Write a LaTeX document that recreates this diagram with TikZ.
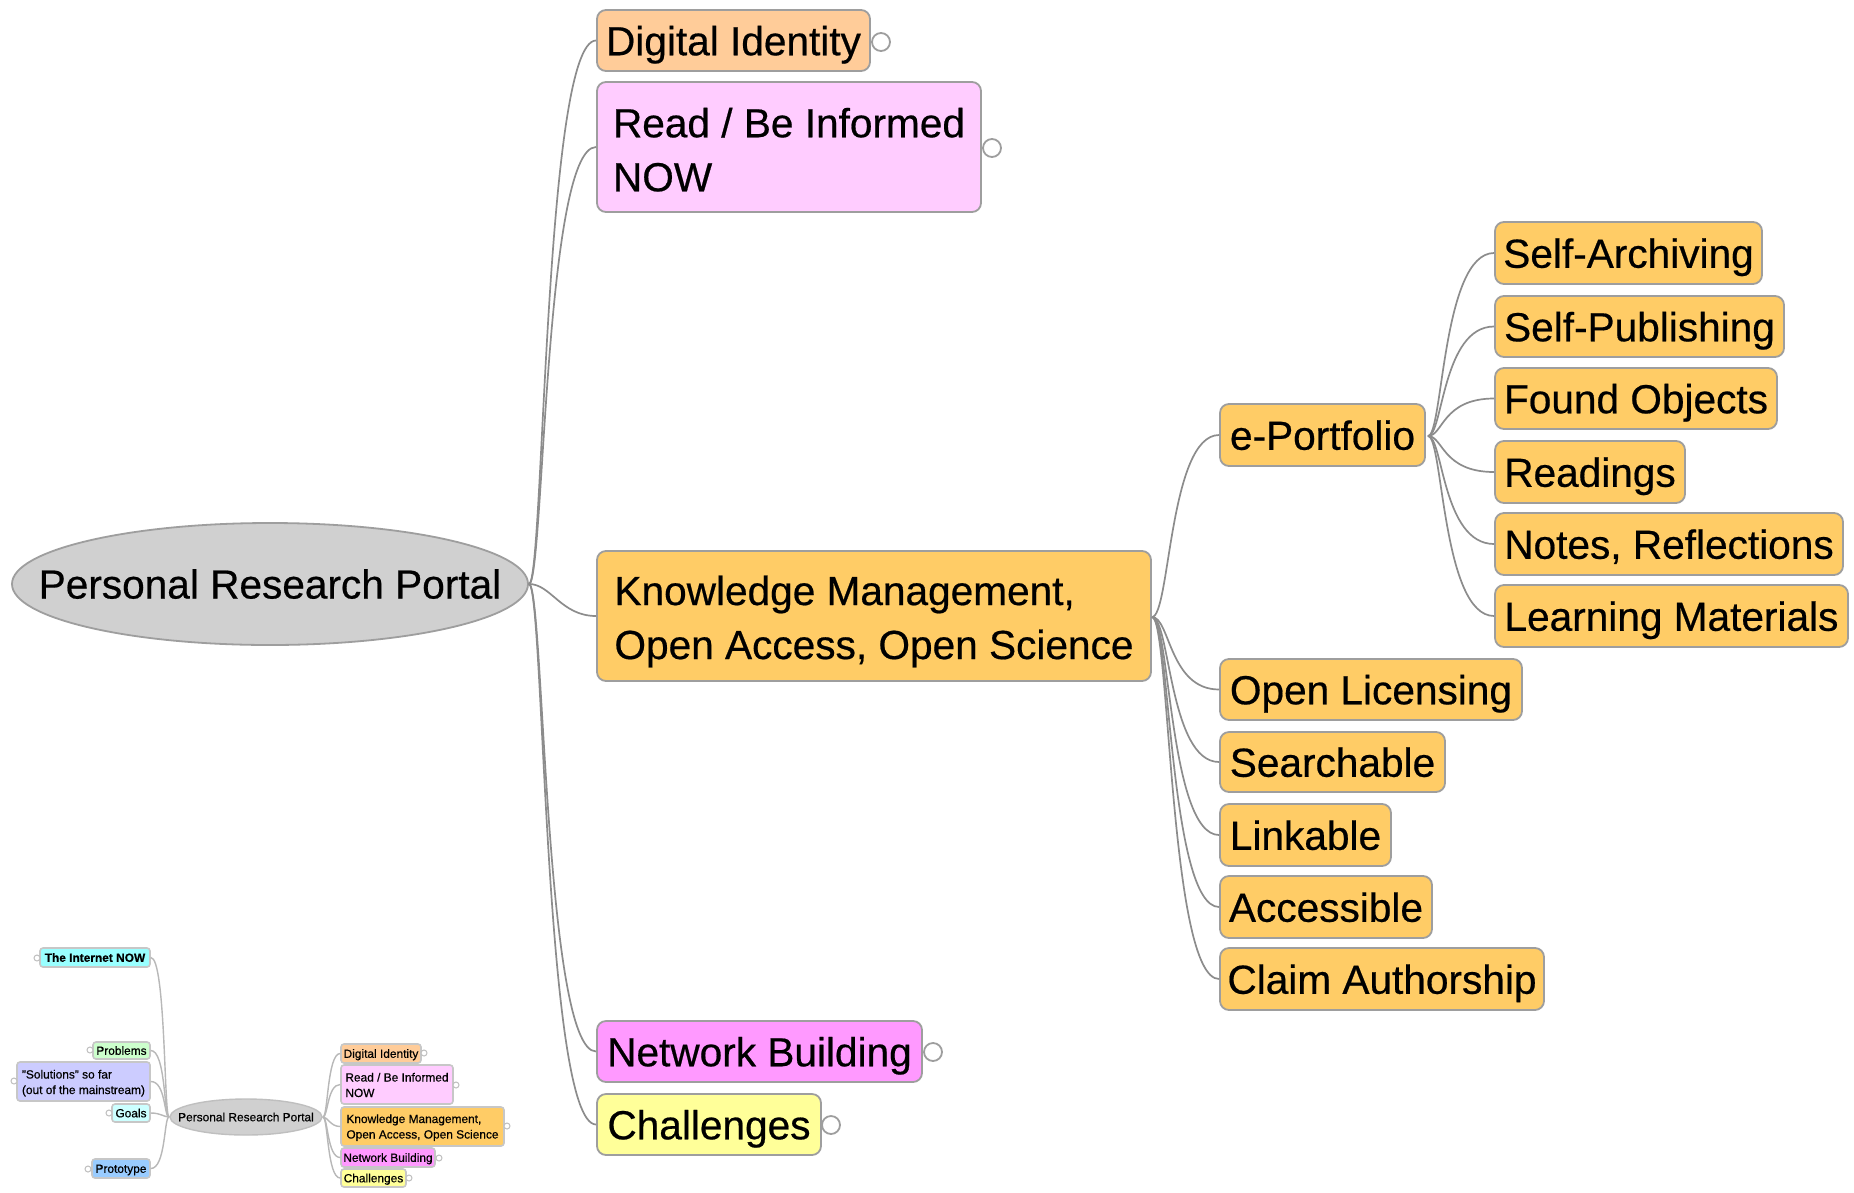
\documentclass[tikz,border=0pt]{standalone}
\usepackage{fontspec}
\setmainfont{Liberation Sans}[FakeBold=0.5]
\usetikzlibrary{shapes.geometric}
\tikzset{
  x=1pt,y=-1pt,
  big/.style={draw=black!38,line width=1.8pt,rounded corners=9pt,inner sep=0pt,align=left,text height=29.5pt,text depth=0pt,font=\fontsize{40.6}{54}\selectfont},
  small/.style={draw=black!22,line width=1.6pt,rounded corners=3pt,inner sep=0pt,align=left,text height=8.6pt,text depth=0pt,font=\fontsize{11.9}{15.5}\selectfont},
  link/.style={draw=black!45,line width=1.7pt},
  slink/.style={draw=black!28,line width=1.4pt},
  foldbig/.style={circle,draw=black!38,fill=white,line width=1.8pt,minimum size=18pt,inner sep=0pt},
  foldsmall/.style={circle,draw=black!25,fill=white,line width=1pt,minimum size=6pt,inner sep=0pt},
}
\definecolor{cdig}{HTML}{FFCC99}
\definecolor{cread}{HTML}{FFCCFF}
\definecolor{cknow}{HTML}{FFCC66}
\definecolor{cnet}{HTML}{FF99FF}
\definecolor{cchal}{HTML}{FFFF99}
\definecolor{croot}{HTML}{D0D0D0}
\definecolor{cint}{HTML}{99FFFF}
\definecolor{cprob}{HTML}{CCFFCC}
\definecolor{csol}{HTML}{CCCCFF}
\definecolor{cgoal}{HTML}{CCFFFF}
\definecolor{cproto}{HTML}{99CCFF}
% \bx[style]{name}{x1}{y1}{x2}{y2}{colour}{text}
\newcommand{\bx}[8][big]{%
  \pgfmathsetmacro{\bxw}{#5-#3}\pgfmathsetmacro{\bxh}{#6-#4}%
  \pgfmathsetmacro{\bxcx}{(#3+#5)/2}\pgfmathsetmacro{\bxcy}{(#4+#6)/2}%
  \node[#1,fill=#7,minimum width=\bxw pt,minimum height=\bxh pt] (#2) at (\bxcx,\bxcy) {#8};}
\newcommand{\lnk}[5][link]{\draw[#1] (#2) .. controls +(#4,0) and +(#5,0) .. (#3);}
\begin{document}
\begin{tikzpicture}
\useasboundingbox (0,0) rectangle (1854,1192);
\fill[white] (0,0) rectangle (1854,1192);

\coordinate (rootE) at (529,584);
\coordinate (knowE) at (1152,617);
\coordinate (epE) at (1428,436);
\coordinate (srootE) at (323,1117);
\coordinate (srootW) at (169,1117);

\node[ellipse,draw=black!38,line width=1.8pt,fill=croot,minimum width=516pt,minimum height=122pt,inner sep=0pt,font=\fontsize{40.6}{54}\selectfont] (root) at (270,584) {\makebox[0pt]{Personal Research Portal}};
\bx{dig}{597}{10}{870}{71}{cdig}{Digital Identity}
\bx[big,text height=88.5pt]{read}{597}{82}{981}{212}{cread}{Read / Be Informed\\NOW}
\bx[big,text height=86pt]{know}{597}{551}{1151}{681}{cknow}{Knowledge Management,\\Open Access, Open Science}
\bx{net}{597}{1021}{922}{1082}{cnet}{Network Building}
\bx{chal}{597}{1094}{821}{1155}{cchal}{Challenges}
\bx{ep}{1220}{404}{1425}{466}{cknow}{e-Portfolio}
\bx{sa}{1495}{222}{1762}{284}{cknow}{Self-Archiving}
\bx{sp}{1495}{296}{1784}{357}{cknow}{Self-Publishing}
\bx{fo}{1495}{368}{1777}{429}{cknow}{Found Objects}
\bx{rd}{1495}{441}{1685}{503}{cknow}{Readings}
\bx{nr}{1495}{513}{1843}{575}{cknow}{Notes, Reflections}
\bx{lm}{1495}{585}{1848}{647}{cknow}{Learning Materials}
\bx{ol}{1220}{659}{1522}{720}{cknow}{Open Licensing}
\bx{se}{1220}{732}{1445}{792}{cknow}{Searchable}
\bx{li}{1220}{804}{1391}{866}{cknow}{Linkable}
\bx{ac}{1220}{876}{1432}{938}{cknow}{Accessible}
\bx{ca}{1220}{948}{1544}{1010}{cknow}{Claim Authorship}

\node[foldbig] (fdig) at (881,42) {};
\node[foldbig] (fread) at (992,148) {};
\node[foldbig] (fnet) at (933,1052) {};
\node[foldbig] (fchal) at (831,1125) {};

\lnk{rootE}{dig.west}{15}{-52}
\lnk{rootE}{read.west}{15}{-52}
\lnk{rootE}{know.west}{22}{-35}
\lnk{rootE}{net.west}{15}{-52}
\lnk{rootE}{chal.west}{15}{-52}
\lnk{knowE}{ep.west}{18}{-50}
\lnk{knowE}{ol.west}{18}{-50}
\lnk{knowE}{se.west}{18}{-50}
\lnk{knowE}{li.west}{18}{-50}
\lnk{knowE}{ac.west}{18}{-50}
\lnk{knowE}{ca.west}{18}{-50}
\lnk{epE}{sa.west}{15}{-52}
\lnk{epE}{sp.west}{15}{-52}
\lnk{epE}{fo.west}{15}{-52}
\lnk{epE}{rd.west}{15}{-52}
\lnk{epE}{nr.west}{15}{-52}
\lnk{epE}{lm.west}{15}{-52}

% inset overview
\node[ellipse,draw=black!25,line width=1.4pt,fill=croot,minimum width=152pt,minimum height=36pt,inner sep=0pt,font=\fontsize{11.9}{15.5}\selectfont] (sroot) at (246,1117) {\makebox[0pt]{Personal Research Portal}};
\bx[small]{sint}{40}{948}{150}{967}{cint}{\textbf{The Internet NOW}}
\bx[small]{sprob}{93}{1042}{150}{1059}{cprob}{Problems}
\bx[small,text height=25pt]{ssol}{17}{1062}{150}{1101}{csol}{"Solutions" so far\\(out of the mainstream)}
\bx[small]{sgoal}{112}{1104}{150}{1122}{cgoal}{Goals}
\bx[small]{sproto}{92}{1159}{150}{1178}{cproto}{Prototype}
\bx[small]{sdig}{341}{1044}{421}{1063}{cdig}{Digital Identity}
\bx[small,text height=25pt]{sread}{341}{1065}{453}{1104}{cread}{Read / Be Informed\\NOW}
\bx[small,text height=24pt]{sknow}{341}{1107}{504}{1146}{cknow}{Knowledge Management,\\Open Access, Open Science}
\bx[small]{snet}{341}{1148}{435}{1167}{cnet}{Network Building}
\bx[small]{schal}{341}{1169}{406}{1187}{cchal}{Challenges}

\node[foldsmall] (fsint) at (37,958) {};
\node[foldsmall] (fsprob) at (90,1050) {};
\node[foldsmall] (fssol) at (14,1081) {};
\node[foldsmall] (fsgoal) at (109,1113) {};
\node[foldsmall] (fsproto) at (88,1169) {};
\node[foldsmall] (fsdig) at (424,1053) {};
\node[foldsmall] (fsread) at (456,1085) {};
\node[foldsmall] (fsknow) at (507,1126) {};
\node[foldsmall] (fsnet) at (439,1158) {};
\node[foldsmall] (fschal) at (409,1178) {};

\lnk[slink]{srootW}{sint.east}{-5}{15}
\lnk[slink]{srootW}{sprob.east}{-5}{15}
\lnk[slink]{srootW}{ssol.east}{-5}{15}
\lnk[slink]{srootW}{sgoal.east}{-5}{10}
\lnk[slink]{srootW}{sproto.east}{-5}{15}
\lnk[slink]{srootE}{sdig.west}{5}{-13}
\lnk[slink]{srootE}{sread.west}{5}{-13}
\lnk[slink]{srootE}{sknow.west}{5}{-10}
\lnk[slink]{srootE}{snet.west}{5}{-13}
\lnk[slink]{srootE}{schal.west}{5}{-13}
\end{tikzpicture}
\end{document}
